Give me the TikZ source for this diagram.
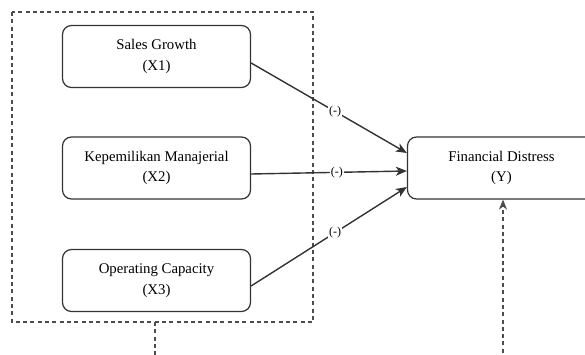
\documentclass[tikz,border=0pt]{standalone}
\usepackage{fontspec}
\setmainfont{Liberation Serif}
\usetikzlibrary{arrows.meta}

\tikzset{
  varbox/.style={draw=black!80, line width=1.2pt, rounded corners=9pt, fill=white,
    minimum width=188pt, minimum height=62pt, align=center,
    font=\fontsize{14.8}{20.5}\selectfont},
  effect/.style={draw=black!80, line width=1.4pt, -{Stealth[length=11pt,width=9pt,inset=3pt]}},
  sign/.style={fill=white, inner sep=1pt, font=\fontsize{12}{14}\selectfont},
  group/.style={draw=black!70, line width=1.2pt, dash pattern=on 4pt off 3.3pt}
}

\begin{document}
\begin{tikzpicture}[x=1pt,y=-1pt]
\useasboundingbox (0,0) rectangle (585,355);
\clip (0,0) rectangle (585,355);
% dashed frame round the independent variables
\draw[group] (12,12) rectangle (313,322);
\coordinate (framebot) at (155,322);
\coordinate (bottomleft) at (155,360);
\draw[group] (framebot) -- (bottomleft);
% variables
\node[varbox] (x1) at (156.5,56.5) {Sales Growth\\(X1)};
\node[varbox] (x2) at (156.5,168) {Kepemilikan Manajerial\\(X2)};
\node[varbox] (x3) at (156.5,280.5) {Operating Capacity\\(X3)};
\node[varbox] (y) at (501.5,168) {Financial Distress\\(Y)};
% effects
\draw[effect] ([yshift=-6.5pt]x1.east) -- node[sign, pos=.54] {(-)} ([yshift=15pt]y.west);
\draw[effect] ([yshift=-6pt]x2.east) -- node[sign, pos=.55] {(-)} ([yshift=-3pt]y.west);
\draw[effect] ([yshift=-5.5pt]x3.east) -- node[sign, pos=.54] {(-)} ([yshift=-19pt]y.west);
% dashed link into Y
\coordinate (bottomright) at (503,360);
\draw[group, -{Stealth[length=10pt,width=8pt,inset=3pt]}] (bottomright) -- ([xshift=1.5pt]y.south);
\end{tikzpicture}
\end{document}
